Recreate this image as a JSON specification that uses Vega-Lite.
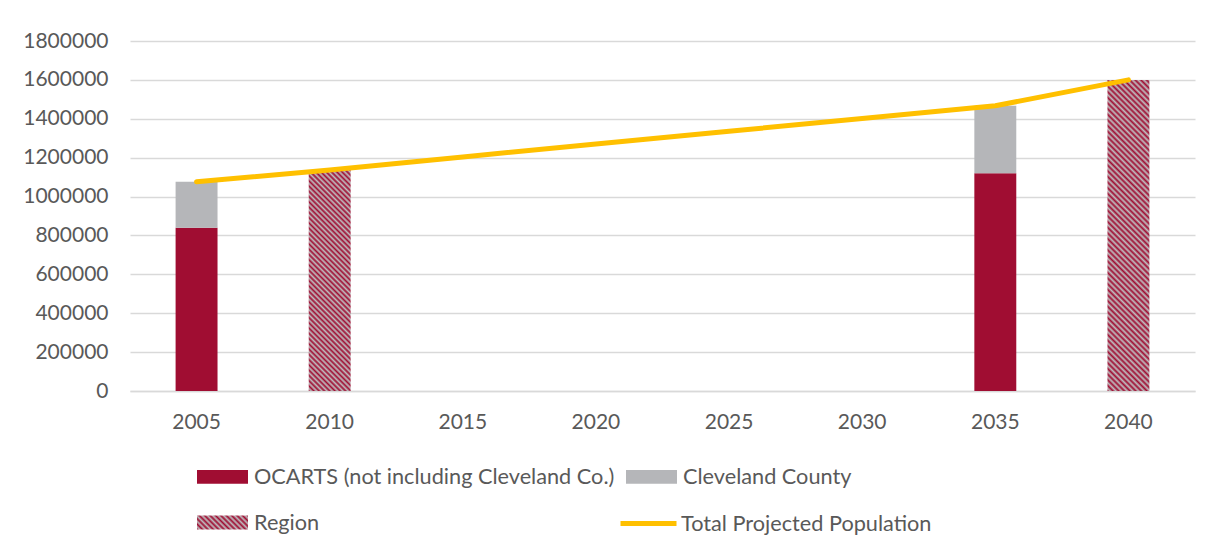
{
  "$schema": "https://vega.github.io/schema/vega-lite/v6.json",
  "width": 1065,
  "height": 350,
  "autosize": {"type": "none"},
  "padding": {"left": 130, "top": 41, "right": 27, "bottom": 157},
  "background": "white",
  "config": {
    "font": "Lato",
    "view": {"stroke": null},
    "axis": {"labelFont": "Lato", "labelFontSize": 21, "labelColor": "#595959", "ticks": false},
    "axisY": {"domain": false, "grid": true, "gridColor": "#D9D9D9", "gridWidth": 1.3, "labelPadding": 22, "labelOverlap": false, "tickCount": 20},
    "axisX": {"domain": true, "domainColor": "#D9D9D9", "domainWidth": 1.3, "grid": false, "labelAngle": 0, "labelPadding": 20},
    "legend": {"labelFont": "Lato", "labelFontSize": 21.7, "labelColor": "#595959", "padding": 0, "labelLimit": 1000}
  },
  "datasets": {
    "bars": [
      {"year": "2005", "series": "OCARTS (not including Cleveland Co.)", "value": 840000},
      {"year": "2005", "series": "Cleveland County", "value": 236400},
      {"year": "2010", "series": "Region", "value": 1136600},
      {"year": "2035", "series": "OCARTS (not including Cleveland Co.)", "value": 1119600},
      {"year": "2035", "series": "Cleveland County", "value": 347400},
      {"year": "2040", "series": "Region", "value": 1599500}
    ],
    "total": [
      {"year": "2005", "series": "Total Projected Population", "value": 1076000},
      {"year": "2010", "series": "Total Projected Population", "value": 1136000},
      {"year": "2015", "series": "Total Projected Population", "value": 1204000},
      {"year": "2020", "series": "Total Projected Population", "value": 1270000},
      {"year": "2025", "series": "Total Projected Population", "value": 1336000},
      {"year": "2030", "series": "Total Projected Population", "value": 1401000},
      {"year": "2035", "series": "Total Projected Population", "value": 1467000},
      {"year": "2040", "series": "Total Projected Population", "value": 1600000}
    ]
  },
  "layer": [
    {
      "data": {"name": "bars"},
      "transform": [{"filter": "datum.series !== 'Region'"}],
      "mark": {"type": "bar"},
      "encoding": {
        "x": {"field": "year", "type": "ordinal", "scale": {"domain": ["2005", "2010", "2015", "2020", "2025", "2030", "2035", "2040"], "paddingInner": 0.685, "paddingOuter": 0.3425}, "axis": {"title": null}},
        "y": {"field": "value", "type": "quantitative", "stack": "zero", "scale": {"domain": [0, 1800000], "nice": false}, "axis": {"title": null, "values": [0, 200000, 400000, 600000, 800000, 1000000, 1200000, 1400000, 1600000, 1800000], "format": "d", "tickCount": 20, "labelOverlap": false}},
        "order": {"field": "series", "sort": "descending"},
        "color": {
          "field": "series", "type": "nominal",
          "scale": {"domain": ["OCARTS (not including Cleveland Co.)", "Cleveland County"], "range": ["#A00D32", "#B5B6B9"]},
          "legend": {
            "orient": "none", "legendX": 66, "legendY": 409, "columns": 2, "direction": "horizontal", "title": null,
            "symbolSize": 2601, "symbolType": "M-1,-0.27H1V0.27H-1Z", "labelOffset": 5, "columnPadding": 10
          }
        }
      }
    },
    {
      "data": {"name": "bars"},
      "transform": [{"filter": "datum.series === 'Region'"}],
      "mark": {"type": "bar", "fill": {"gradient": "linear", "x1": 0, "y1": 1, "x2": 1.1837, "y2": 0.6804, "stops": [
        {"offset": 0, "color": "#A00D32"}, {"offset": 0.0417, "color": "#BEBEC0"}, {"offset": 0.0833, "color": "#A00D32"}, {"offset": 0.125, "color": "#BEBEC0"}, {"offset": 0.1667, "color": "#A00D32"}, {"offset": 0.2083, "color": "#BEBEC0"}, {"offset": 0.25, "color": "#A00D32"}, {"offset": 0.2917, "color": "#BEBEC0"}, {"offset": 0.3333, "color": "#A00D32"}, {"offset": 0.375, "color": "#BEBEC0"}, {"offset": 0.4167, "color": "#A00D32"}, {"offset": 0.4583, "color": "#BEBEC0"}, {"offset": 0.5, "color": "#A00D32"}, {"offset": 0.5417, "color": "#BEBEC0"}, {"offset": 0.5833, "color": "#A00D32"}, {"offset": 0.625, "color": "#BEBEC0"}, {"offset": 0.6667, "color": "#A00D32"}, {"offset": 0.7083, "color": "#BEBEC0"}, {"offset": 0.75, "color": "#A00D32"}, {"offset": 0.7917, "color": "#BEBEC0"}, {"offset": 0.8333, "color": "#A00D32"}, {"offset": 0.875, "color": "#BEBEC0"}, {"offset": 0.9167, "color": "#A00D32"}, {"offset": 0.9583, "color": "#BEBEC0"}, {"offset": 1, "color": "#A00D32"}
      ]}},
      "encoding": {
        "x": {"field": "year", "type": "ordinal"},
        "y": {"field": "value", "type": "quantitative", "stack": null},
        "y2": {"field": "value"},
        "opacity": {
          "field": "series", "type": "ordinal",
          "scale": {"domain": ["Region"], "range": [1, 1]},
          "legend": {
            "orient": "none", "legendX": 66, "legendY": 455, "title": null,
            "symbolSize": 2601, "symbolType": "M-1,-0.27H1V0.27H-1Z", "labelOffset": 5, "symbolStrokeColor": "transparent"
          }
        }
      }
    },
    {
      "data": {"name": "bars"},
      "transform": [{"filter": "datum.series === 'Region' && datum.year === '2010'"}],
      "mark": {"type": "bar", "fill": {"gradient": "linear", "x1": 0, "y1": 1, "x2": 0.21789, "y2": -0.14843, "stops": [
        {"offset": 0, "color": "#A00D32"}, {"offset": 0.01, "color": "#BEBEC0"}, {"offset": 0.02, "color": "#A00D32"}, {"offset": 0.03, "color": "#BEBEC0"}, {"offset": 0.04, "color": "#A00D32"}, {"offset": 0.05, "color": "#BEBEC0"}, {"offset": 0.06, "color": "#A00D32"}, {"offset": 0.07, "color": "#BEBEC0"}, {"offset": 0.08, "color": "#A00D32"}, {"offset": 0.09, "color": "#BEBEC0"},
        {"offset": 0.1, "color": "#A00D32"}, {"offset": 0.11, "color": "#BEBEC0"}, {"offset": 0.12, "color": "#A00D32"}, {"offset": 0.13, "color": "#BEBEC0"}, {"offset": 0.14, "color": "#A00D32"}, {"offset": 0.15, "color": "#BEBEC0"}, {"offset": 0.16, "color": "#A00D32"}, {"offset": 0.17, "color": "#BEBEC0"}, {"offset": 0.18, "color": "#A00D32"}, {"offset": 0.19, "color": "#BEBEC0"},
        {"offset": 0.2, "color": "#A00D32"}, {"offset": 0.21, "color": "#BEBEC0"}, {"offset": 0.22, "color": "#A00D32"}, {"offset": 0.23, "color": "#BEBEC0"}, {"offset": 0.24, "color": "#A00D32"}, {"offset": 0.25, "color": "#BEBEC0"}, {"offset": 0.26, "color": "#A00D32"}, {"offset": 0.27, "color": "#BEBEC0"}, {"offset": 0.28, "color": "#A00D32"}, {"offset": 0.29, "color": "#BEBEC0"},
        {"offset": 0.3, "color": "#A00D32"}, {"offset": 0.31, "color": "#BEBEC0"}, {"offset": 0.32, "color": "#A00D32"}, {"offset": 0.33, "color": "#BEBEC0"}, {"offset": 0.34, "color": "#A00D32"}, {"offset": 0.35, "color": "#BEBEC0"}, {"offset": 0.36, "color": "#A00D32"}, {"offset": 0.37, "color": "#BEBEC0"}, {"offset": 0.38, "color": "#A00D32"}, {"offset": 0.39, "color": "#BEBEC0"},
        {"offset": 0.4, "color": "#A00D32"}, {"offset": 0.41, "color": "#BEBEC0"}, {"offset": 0.42, "color": "#A00D32"}, {"offset": 0.43, "color": "#BEBEC0"}, {"offset": 0.44, "color": "#A00D32"}, {"offset": 0.45, "color": "#BEBEC0"}, {"offset": 0.46, "color": "#A00D32"}, {"offset": 0.47, "color": "#BEBEC0"}, {"offset": 0.48, "color": "#A00D32"}, {"offset": 0.49, "color": "#BEBEC0"},
        {"offset": 0.5, "color": "#A00D32"}, {"offset": 0.51, "color": "#BEBEC0"}, {"offset": 0.52, "color": "#A00D32"}, {"offset": 0.53, "color": "#BEBEC0"}, {"offset": 0.54, "color": "#A00D32"}, {"offset": 0.55, "color": "#BEBEC0"}, {"offset": 0.56, "color": "#A00D32"}, {"offset": 0.57, "color": "#BEBEC0"}, {"offset": 0.58, "color": "#A00D32"}, {"offset": 0.59, "color": "#BEBEC0"},
        {"offset": 0.6, "color": "#A00D32"}, {"offset": 0.61, "color": "#BEBEC0"}, {"offset": 0.62, "color": "#A00D32"}, {"offset": 0.63, "color": "#BEBEC0"}, {"offset": 0.64, "color": "#A00D32"}, {"offset": 0.65, "color": "#BEBEC0"}, {"offset": 0.66, "color": "#A00D32"}, {"offset": 0.67, "color": "#BEBEC0"}, {"offset": 0.68, "color": "#A00D32"}, {"offset": 0.69, "color": "#BEBEC0"},
        {"offset": 0.7, "color": "#A00D32"}, {"offset": 0.71, "color": "#BEBEC0"}, {"offset": 0.72, "color": "#A00D32"}, {"offset": 0.73, "color": "#BEBEC0"}, {"offset": 0.74, "color": "#A00D32"}, {"offset": 0.75, "color": "#BEBEC0"}, {"offset": 0.76, "color": "#A00D32"}, {"offset": 0.77, "color": "#BEBEC0"}, {"offset": 0.78, "color": "#A00D32"}, {"offset": 0.79, "color": "#BEBEC0"},
        {"offset": 0.8, "color": "#A00D32"}, {"offset": 0.81, "color": "#BEBEC0"}, {"offset": 0.82, "color": "#A00D32"}, {"offset": 0.83, "color": "#BEBEC0"}, {"offset": 0.84, "color": "#A00D32"}, {"offset": 0.85, "color": "#BEBEC0"}, {"offset": 0.86, "color": "#A00D32"}, {"offset": 0.87, "color": "#BEBEC0"}, {"offset": 0.88, "color": "#A00D32"}, {"offset": 0.89, "color": "#BEBEC0"},
        {"offset": 0.9, "color": "#A00D32"}, {"offset": 0.91, "color": "#BEBEC0"}, {"offset": 0.92, "color": "#A00D32"}, {"offset": 0.93, "color": "#BEBEC0"}, {"offset": 0.94, "color": "#A00D32"}, {"offset": 0.95, "color": "#BEBEC0"}, {"offset": 0.96, "color": "#A00D32"}, {"offset": 0.97, "color": "#BEBEC0"}, {"offset": 0.98, "color": "#A00D32"}, {"offset": 0.99, "color": "#BEBEC0"},
        {"offset": 1, "color": "#A00D32"}
      ]}},
      "encoding": {
        "x": {"field": "year", "type": "ordinal"},
        "y": {"field": "value", "type": "quantitative", "stack": null}
      }
    },
    {
      "data": {"name": "bars"},
      "transform": [{"filter": "datum.series === 'Region' && datum.year === '2040'"}],
      "mark": {"type": "bar", "fill": {"gradient": "linear", "x1": 0, "y1": 1, "x2": 0.15027, "y2": -0.11457, "stops": [
        {"offset": 0, "color": "#A00D32"}, {"offset": 0.008, "color": "#BEBEC0"}, {"offset": 0.016, "color": "#A00D32"}, {"offset": 0.024, "color": "#BEBEC0"}, {"offset": 0.032, "color": "#A00D32"}, {"offset": 0.04, "color": "#BEBEC0"}, {"offset": 0.048, "color": "#A00D32"}, {"offset": 0.056, "color": "#BEBEC0"}, {"offset": 0.064, "color": "#A00D32"}, {"offset": 0.072, "color": "#BEBEC0"},
        {"offset": 0.08, "color": "#A00D32"}, {"offset": 0.088, "color": "#BEBEC0"}, {"offset": 0.096, "color": "#A00D32"}, {"offset": 0.104, "color": "#BEBEC0"}, {"offset": 0.112, "color": "#A00D32"}, {"offset": 0.12, "color": "#BEBEC0"}, {"offset": 0.128, "color": "#A00D32"}, {"offset": 0.136, "color": "#BEBEC0"}, {"offset": 0.144, "color": "#A00D32"}, {"offset": 0.152, "color": "#BEBEC0"},
        {"offset": 0.16, "color": "#A00D32"}, {"offset": 0.168, "color": "#BEBEC0"}, {"offset": 0.176, "color": "#A00D32"}, {"offset": 0.184, "color": "#BEBEC0"}, {"offset": 0.192, "color": "#A00D32"}, {"offset": 0.2, "color": "#BEBEC0"}, {"offset": 0.208, "color": "#A00D32"}, {"offset": 0.216, "color": "#BEBEC0"}, {"offset": 0.224, "color": "#A00D32"}, {"offset": 0.232, "color": "#BEBEC0"},
        {"offset": 0.24, "color": "#A00D32"}, {"offset": 0.248, "color": "#BEBEC0"}, {"offset": 0.256, "color": "#A00D32"}, {"offset": 0.264, "color": "#BEBEC0"}, {"offset": 0.272, "color": "#A00D32"}, {"offset": 0.28, "color": "#BEBEC0"}, {"offset": 0.288, "color": "#A00D32"}, {"offset": 0.296, "color": "#BEBEC0"}, {"offset": 0.304, "color": "#A00D32"}, {"offset": 0.312, "color": "#BEBEC0"},
        {"offset": 0.32, "color": "#A00D32"}, {"offset": 0.328, "color": "#BEBEC0"}, {"offset": 0.336, "color": "#A00D32"}, {"offset": 0.344, "color": "#BEBEC0"}, {"offset": 0.352, "color": "#A00D32"}, {"offset": 0.36, "color": "#BEBEC0"}, {"offset": 0.368, "color": "#A00D32"}, {"offset": 0.376, "color": "#BEBEC0"}, {"offset": 0.384, "color": "#A00D32"}, {"offset": 0.392, "color": "#BEBEC0"},
        {"offset": 0.4, "color": "#A00D32"}, {"offset": 0.408, "color": "#BEBEC0"}, {"offset": 0.416, "color": "#A00D32"}, {"offset": 0.424, "color": "#BEBEC0"}, {"offset": 0.432, "color": "#A00D32"}, {"offset": 0.44, "color": "#BEBEC0"}, {"offset": 0.448, "color": "#A00D32"}, {"offset": 0.456, "color": "#BEBEC0"}, {"offset": 0.464, "color": "#A00D32"}, {"offset": 0.472, "color": "#BEBEC0"},
        {"offset": 0.48, "color": "#A00D32"}, {"offset": 0.488, "color": "#BEBEC0"}, {"offset": 0.496, "color": "#A00D32"}, {"offset": 0.504, "color": "#BEBEC0"}, {"offset": 0.512, "color": "#A00D32"}, {"offset": 0.52, "color": "#BEBEC0"}, {"offset": 0.528, "color": "#A00D32"}, {"offset": 0.536, "color": "#BEBEC0"}, {"offset": 0.544, "color": "#A00D32"}, {"offset": 0.552, "color": "#BEBEC0"},
        {"offset": 0.56, "color": "#A00D32"}, {"offset": 0.568, "color": "#BEBEC0"}, {"offset": 0.576, "color": "#A00D32"}, {"offset": 0.584, "color": "#BEBEC0"}, {"offset": 0.592, "color": "#A00D32"}, {"offset": 0.6, "color": "#BEBEC0"}, {"offset": 0.608, "color": "#A00D32"}, {"offset": 0.616, "color": "#BEBEC0"}, {"offset": 0.624, "color": "#A00D32"}, {"offset": 0.632, "color": "#BEBEC0"},
        {"offset": 0.64, "color": "#A00D32"}, {"offset": 0.648, "color": "#BEBEC0"}, {"offset": 0.656, "color": "#A00D32"}, {"offset": 0.664, "color": "#BEBEC0"}, {"offset": 0.672, "color": "#A00D32"}, {"offset": 0.68, "color": "#BEBEC0"}, {"offset": 0.688, "color": "#A00D32"}, {"offset": 0.696, "color": "#BEBEC0"}, {"offset": 0.704, "color": "#A00D32"}, {"offset": 0.712, "color": "#BEBEC0"},
        {"offset": 0.72, "color": "#A00D32"}, {"offset": 0.728, "color": "#BEBEC0"}, {"offset": 0.736, "color": "#A00D32"}, {"offset": 0.744, "color": "#BEBEC0"}, {"offset": 0.752, "color": "#A00D32"}, {"offset": 0.76, "color": "#BEBEC0"}, {"offset": 0.768, "color": "#A00D32"}, {"offset": 0.776, "color": "#BEBEC0"}, {"offset": 0.784, "color": "#A00D32"}, {"offset": 0.792, "color": "#BEBEC0"},
        {"offset": 0.8, "color": "#A00D32"}, {"offset": 0.808, "color": "#BEBEC0"}, {"offset": 0.816, "color": "#A00D32"}, {"offset": 0.824, "color": "#BEBEC0"}, {"offset": 0.832, "color": "#A00D32"}, {"offset": 0.84, "color": "#BEBEC0"}, {"offset": 0.848, "color": "#A00D32"}, {"offset": 0.856, "color": "#BEBEC0"}, {"offset": 0.864, "color": "#A00D32"}, {"offset": 0.872, "color": "#BEBEC0"},
        {"offset": 0.88, "color": "#A00D32"}, {"offset": 0.888, "color": "#BEBEC0"}, {"offset": 0.896, "color": "#A00D32"}, {"offset": 0.904, "color": "#BEBEC0"}, {"offset": 0.912, "color": "#A00D32"}, {"offset": 0.92, "color": "#BEBEC0"}, {"offset": 0.928, "color": "#A00D32"}, {"offset": 0.936, "color": "#BEBEC0"}, {"offset": 0.944, "color": "#A00D32"}, {"offset": 0.952, "color": "#BEBEC0"},
        {"offset": 0.96, "color": "#A00D32"}, {"offset": 0.968, "color": "#BEBEC0"}, {"offset": 0.976, "color": "#A00D32"}, {"offset": 0.984, "color": "#BEBEC0"}, {"offset": 0.992, "color": "#A00D32"}, {"offset": 1, "color": "#BEBEC0"}
      ]}},
      "encoding": {
        "x": {"field": "year", "type": "ordinal"},
        "y": {"field": "value", "type": "quantitative", "stack": null}
      }
    },
    {
      "data": {"name": "total"},
      "mark": {"type": "line", "strokeWidth": 5, "strokeCap": "round", "strokeJoin": "round"},
      "encoding": {
        "x": {"field": "year", "type": "ordinal"},
        "y": {"field": "value", "type": "quantitative"},
        "stroke": {
          "field": "series", "type": "nominal",
          "scale": {"domain": ["Total Projected Population"], "range": ["#FFC000"]},
          "legend": {
            "orient": "none", "legendX": 488, "legendY": 452, "title": null,
            "symbolType": "stroke", "symbolSize": 3136, "symbolStrokeWidth": 5, "labelOffset": 2
          }
        }
      }
    }
  ]
}
